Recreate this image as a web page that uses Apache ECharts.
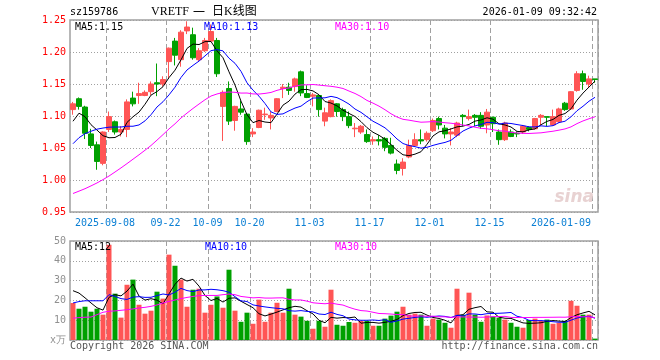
<!DOCTYPE html>
<html><head><meta charset="utf-8">
<script src="https://cdn.jsdelivr.net/npm/echarts@6/dist/echarts.min.js"></script>
<style>html,body{margin:0;padding:0;background:#fff}#c{width:660px;height:360px}</style>
</head><body><div id="c"></div>
<script>
// ---- data ----
const dates = ['2025-08-29','2025-09-01','2025-09-02','2025-09-03','2025-09-04','2025-09-05','2025-09-08','2025-09-09','2025-09-10','2025-09-11','2025-09-12','2025-09-15','2025-09-16','2025-09-17','2025-09-18','2025-09-19','2025-09-22','2025-09-23','2025-09-24','2025-09-25','2025-09-26','2025-09-29','2025-09-30','2025-10-09','2025-10-10','2025-10-13','2025-10-14','2025-10-15','2025-10-16','2025-10-17','2025-10-20','2025-10-21','2025-10-22','2025-10-23','2025-10-24','2025-10-27','2025-10-28','2025-10-29','2025-10-30','2025-10-31','2025-11-03','2025-11-04','2025-11-05','2025-11-06','2025-11-07','2025-11-10','2025-11-11','2025-11-12','2025-11-13','2025-11-14','2025-11-17','2025-11-18','2025-11-19','2025-11-20','2025-11-21','2025-11-24','2025-11-25','2025-11-26','2025-11-27','2025-11-28','2025-12-01','2025-12-02','2025-12-03','2025-12-04','2025-12-05','2025-12-08','2025-12-09','2025-12-10','2025-12-11','2025-12-12','2025-12-15','2025-12-16','2025-12-17','2025-12-18','2025-12-19','2025-12-22','2025-12-23','2025-12-24','2025-12-25','2025-12-26','2025-12-29','2025-12-30','2025-12-31','2026-01-05','2026-01-06','2026-01-07','2026-01-08','2026-01-09'];
const opens  = [1.110,1.127,1.114,1.072,1.055,1.026,1.079,1.091,1.075,1.079,1.128,1.132,1.132,1.138,1.152,1.150,1.185,1.217,1.188,1.233,1.227,1.188,1.202,1.217,1.218,1.115,1.143,1.093,1.111,1.103,1.072,1.082,1.102,1.097,1.107,1.143,1.145,1.146,1.169,1.135,1.131,1.132,1.092,1.099,1.119,1.110,1.099,1.080,1.075,1.071,1.061,1.063,1.065,1.054,1.025,1.018,1.036,1.054,1.063,1.063,1.077,1.096,1.081,1.072,1.070,1.101,1.096,1.101,1.101,1.086,1.098,1.075,1.063,1.075,1.073,1.075,1.082,1.080,1.098,1.099,1.086,1.091,1.120,1.111,1.140,1.166,1.150,1.158];
const closes = [1.119,1.115,1.073,1.054,1.029,1.075,1.099,1.075,1.079,1.122,1.119,1.135,1.137,1.150,1.150,1.157,1.206,1.195,1.231,1.239,1.191,1.202,1.218,1.232,1.166,1.137,1.092,1.115,1.106,1.060,1.075,1.109,1.103,1.101,1.127,1.145,1.140,1.158,1.136,1.129,1.133,1.110,1.105,1.124,1.107,1.099,1.085,1.081,1.084,1.060,1.063,1.061,1.051,1.042,1.015,1.028,1.054,1.063,1.061,1.073,1.093,1.086,1.072,1.075,1.089,1.099,1.099,1.098,1.084,1.106,1.088,1.063,1.089,1.068,1.072,1.084,1.079,1.096,1.101,1.098,1.099,1.111,1.110,1.138,1.166,1.154,1.158,1.157];
const lows   = [1.102,1.110,1.064,1.050,1.016,1.023,1.075,1.071,1.068,1.067,1.115,1.119,1.131,1.133,1.131,1.146,1.158,1.179,1.177,1.228,1.188,1.185,1.200,1.216,1.161,1.061,1.086,1.077,1.102,1.055,1.067,1.081,1.094,1.079,1.106,1.128,1.133,1.138,1.131,1.128,1.115,1.099,1.084,1.098,1.099,1.092,1.081,1.067,1.072,1.058,1.055,1.054,1.045,1.040,1.009,1.007,1.034,1.053,1.056,1.060,1.075,1.079,1.065,1.054,1.067,1.084,1.093,1.084,1.080,1.073,1.075,1.055,1.061,1.067,1.067,1.072,1.076,1.079,1.085,1.084,1.085,1.089,1.108,1.110,1.138,1.141,1.144,1.152];
const highs  = [1.122,1.129,1.116,1.080,1.060,1.076,1.107,1.093,1.084,1.126,1.138,1.152,1.140,1.154,1.182,1.162,1.207,1.222,1.234,1.248,1.238,1.206,1.222,1.243,1.222,1.140,1.154,1.116,1.124,1.104,1.081,1.110,1.113,1.107,1.128,1.150,1.152,1.160,1.171,1.148,1.136,1.133,1.113,1.126,1.120,1.113,1.107,1.089,1.086,1.079,1.068,1.070,1.067,1.066,1.032,1.034,1.063,1.073,1.079,1.076,1.096,1.099,1.086,1.081,1.091,1.103,1.110,1.103,1.106,1.111,1.099,1.079,1.091,1.079,1.076,1.086,1.084,1.097,1.103,1.099,1.110,1.113,1.122,1.139,1.170,1.171,1.163,1.158];
const volumes = [18.7,15.8,16.8,14.3,15.8,12.8,48.1,23.4,11.3,27.9,30.5,17.8,13.3,14.8,24.4,20.9,43.1,37.5,30.5,16.8,25.4,25.9,13.8,17.8,22.0,16.3,35.5,14.8,9.2,13.8,8.2,20.4,9.2,13.8,18.8,13.8,25.9,12.8,11.8,9.7,5.7,9.7,6.7,25.4,7.7,7.2,9.1,8.7,9.7,9.7,7.2,7.2,10.8,12.3,14.3,16.8,12.8,13.3,12.8,7.2,10.8,10.3,8.7,6.2,25.9,12.8,23.9,12.8,9.2,12.4,11.8,11.3,10.3,8.7,6.7,6.2,10.1,10.8,9.7,10.3,8.2,8.7,9.7,19.8,17.3,12.8,12.8,0.7];
// moving-average values at the start of the window (depend on earlier, unseen days)
const ma5Head  = [1.0918,1.1044,1.0989,1.0864];
const ma10Head = [1.0567,1.0661,1.0723,1.0762,1.0794,1.0812,1.0825,1.0828,1.0828];
const ma30Head = [0.9789,0.9826,0.9864,0.9908,0.9954,1.0006,1.0062,1.0125,1.0189,1.0256,1.0325,1.0394,1.0465,1.0539,1.0623,1.0709,1.0798,1.0878,1.0969,1.1045,1.1118,1.1187,1.1254,1.1312,1.1344,1.1367,1.1375,1.1370,1.1358];
const vma5Head  = [24.9,23.7,21.3,18.7];
const vma10Head = [18.7,19.4,19.8,19.8,19.8,19.8,22.9,22.0,20.9];
const vma30Head = [11.0,11.3,11.5,11.6,12.8,14.0,14.5,14.7,15.0,15.3,15.7,16.2,16.5,17.0,17.7,18.7,19.5,20.2,20.9,21.5,22.0,22.4,22.5,22.5,22.5,22.9,23.2,22.9,22.0];
const priceTicks = [0.95,1.00,1.05,1.10,1.15,1.20,1.25];
const volTicks = [0,10,20,30,40,50];
const labelDays = ['2025-09-08','2025-09-22','2025-10-09','2025-10-20','2025-11-03','2025-11-17','2025-12-01','2025-12-15','2026-01-09'];
const titleCode = 'sz159786';
const titleTime = '2026-01-09 09:32:42';
const maTexts = ['MA5:1.15','MA10:1.13','MA30:1.10'];
const vmaTexts = ['MA5:12','MA10:10','MA30:10'];

// ---- chart ----
const UP = '#ff5555', DOWN = '#00a000';
const MONO = '"DejaVu Sans Mono", monospace';
function ma(vals, n, head) {
  return vals.map((v, i) => {
    if (i < head.length) return head[i];
    let s = 0; for (let k = i - n + 1; k <= i; k++) s += vals[k];
    return +(s / n).toFixed(4);
  });
}
const labelIdx = labelDays.map(d => dates.indexOf(d));
const firstIdx = labelIdx[0], lastIdx = labelIdx[labelIdx.length - 1];
const isLab = (i) => labelIdx.indexOf(i) >= 0;
const kData = opens.map((o, i) => [o, closes[i], lows[i], highs[i]]);
const volColors = opens.map((o, i) => closes[i] >= o ? UP : DOWN);

const chart = echarts.init(document.getElementById('c'), null, {renderer: 'canvas'});
const lineS = (name, data, color, xi, yi) => ({
  name, type: 'line', data, xAxisIndex: xi, yAxisIndex: yi, symbol: 'none', silent: true,
  lineStyle: {color, width: 1}, z: 5
});
const labStyle = {color: '#0a7fd4', fontFamily: MONO, fontSize: 10};
function txt(text, x, y, color, align, font) {
  return {type: 'text', silent: true, z: 100, style: {text, x, y, fill: color, align: align || 'left', verticalAlign: 'middle', textAlign: align || 'left', textVerticalAlign: 'middle', font: font || ('10px ' + MONO)}};
}
const option = {
  animation: false,
  backgroundColor: '#fff',
  grid: [
    {left: 70, top: 20, width: 528, height: 192, show: true, borderColor: '#a0a0a0', borderWidth: 1.5, backgroundColor: 'transparent'},
    {left: 70, top: 241, width: 528, height: 99, show: true, borderColor: '#a0a0a0', borderWidth: 1.5, backgroundColor: 'transparent'}
  ],
  xAxis: [
    {type: 'category', gridIndex: 0, data: dates, boundaryGap: true,
      axisLine: {show: false}, axisTick: {show: false},
      axisLabel: {interval: (i) => isLab(i), margin: 6, color: '#0a7fd4', fontFamily: MONO, fontSize: 10,
        formatter: (v, i) => {
          if (i === firstIdx) return '{f|' + v + '}';
          if (i === lastIdx) return '{l|' + v + '}';
          return '{m|' + v.slice(5) + '}';
        },
        rich: {f: Object.assign({padding: [0, 8, 0, 0]}, labStyle), m: Object.assign({padding: [0, 7, 0, 0]}, labStyle), l: Object.assign({padding: [0, 68, 0, 0]}, labStyle)}},
      splitLine: {show: true, interval: (i) => isLab(i), lineStyle: {color: '#a0a0a0', type: [5, 3], width: 1}}},
    {type: 'category', gridIndex: 1, data: dates, boundaryGap: true,
      axisLine: {show: false}, axisTick: {show: false}, axisLabel: {show: false},
      splitLine: {show: true, interval: (i) => isLab(i), lineStyle: {color: '#a0a0a0', type: [5, 3], width: 1}}}
  ],
  yAxis: [
    {type: 'value', gridIndex: 0, min: priceTicks[0], max: priceTicks[priceTicks.length - 1], interval: 0.05,
      axisLine: {show: false}, axisTick: {show: false},
      axisLabel: {color: '#ff0000', fontFamily: MONO, fontSize: 10, margin: 4, formatter: (v) => v.toFixed(2)},
      splitLine: {show: true, lineStyle: {color: '#a0a0a0', type: [1, 2], width: 1}}},
    {type: 'value', gridIndex: 1, min: volTicks[0], max: volTicks[volTicks.length - 1], interval: 10,
      axisLine: {show: false}, axisTick: {show: false},
      axisLabel: {color: '#909090', fontFamily: MONO, fontSize: 10, margin: 4, formatter: (v) => v === 0 ? 'x万' : String(v)},
      splitLine: {show: true, lineStyle: {color: '#a0a0a0', type: [1, 2], width: 1}}}
  ],
  series: [
    {type: 'candlestick', xAxisIndex: 0, yAxisIndex: 0, data: kData, barWidth: 5, silent: true,
      itemStyle: {color: UP, color0: DOWN, borderColor: UP, borderColor0: DOWN, borderWidth: 1}, z: 3},
    lineS('MA5', ma(closes, 5, ma5Head), '#000000', 0, 0),
    lineS('MA10', ma(closes, 10, ma10Head), '#0000ff', 0, 0),
    lineS('MA30', ma(closes, 30, ma30Head), '#ff00ff', 0, 0),
    {type: 'bar', xAxisIndex: 1, yAxisIndex: 1, barWidth: 5, silent: true,
      data: volumes.map((v, i) => ({value: v, itemStyle: {color: volColors[i]}})), z: 3},
    lineS('VMA5', ma(volumes, 5, vma5Head), '#000000', 1, 1),
    lineS('VMA10', ma(volumes, 10, vma10Head), '#0000ff', 1, 1),
    lineS('VMA30', ma(volumes, 30, vma30Head), '#ff00ff', 1, 1)
  ],
  graphic: [
    txt(titleCode, 70, 12, '#000'),
    txt('VRETF', 151, 12, '#000', 'left', '12px "Liberation Serif", serif'),
    txt('一', 193, 12, '#000', 'left', '12px "Noto Sans CJK SC"'),
    txt('日K线图', 212, 12, '#000', 'left', '12px "Liberation Serif", "Noto Sans CJK SC"'),
    txt(titleTime, 597, 12, '#000', 'right'),
    txt(maTexts[0], 75, 27, '#000'),
    txt(maTexts[1], 204, 27, '#0000ff'),
    txt(maTexts[2], 335, 27, '#ff00ff'),
    txt(vmaTexts[0], 75, 247, '#000'),
    txt(vmaTexts[1], 205, 247, '#0000ff'),
    txt(vmaTexts[2], 335, 247, '#ff00ff'),
    txt('Copyright 2026 SINA.COM', 70, 346, '#555'),
    txt('http://finance.sina.com.cn', 598, 346, '#555', 'right'),
    txt('sina', 594, 198, '#e8d2d2', 'right', 'italic bold 17px "DejaVu Sans", sans-serif')
  ]
};
chart.setOption(option);
</script></body></html>
